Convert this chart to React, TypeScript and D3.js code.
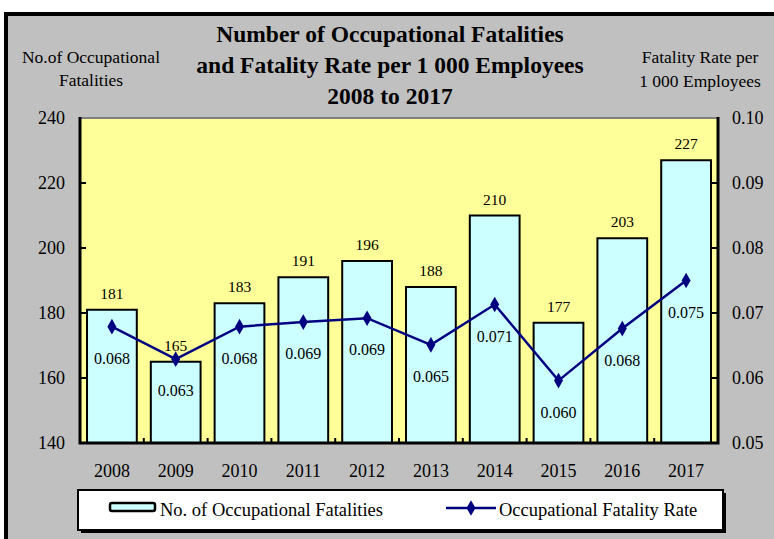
import React, { useEffect, useRef } from "react";
import * as d3 from "d3";

// values
const years = ["2008", "2009", "2010", "2011", "2012", "2013", "2014", "2015", "2016", "2017"];
const fatalities = [181, 165, 183, 191, 196, 188, 210, 177, 203, 227];
const fatalityRate = [0.0679, 0.0629, 0.0679, 0.0686, 0.0692, 0.0651, 0.0713, 0.0596, 0.0676, 0.075];
const leftTicks = [140, 160, 180, 200, 220, 240];
const rightTicks = [0.05, 0.06, 0.07, 0.08, 0.09, 0.1];
const titleLines = [
  "Number of Occupational Fatalities",
  "and Fatality Rate per 1 000 Employees",
  "2008 to 2017",
];

const FONT = "Liberation Serif, serif";

const App = () => {
  const ref = useRef<SVGSVGElement | null>(null);

  useEffect(() => {
    const svgEl = ref.current;
    if (!svgEl) return;
    const svg = d3.select(svgEl);
    svg.selectAll("*").remove();

    const plot = { left: 80, right: 718, top: 118, bottom: 443 };

    // outer frame
    svg.append("rect")
      .attr("x", 6).attr("y", 14)
      .attr("width", 820).attr("height", 600)
      .attr("fill", "#c0c0c0")
      .attr("stroke", "#000")
      .attr("stroke-width", 4);

    // title
    svg.append("g")
      .selectAll("text")
      .data(titleLines)
      .enter()
      .append("text")
      .attr("x", 390)
      .attr("y", (d, i) => 42 + i * 31)
      .attr("text-anchor", "middle")
      .attr("font-family", FONT)
      .attr("font-weight", "bold")
      .attr("font-size", 23.5)
      .text(d => d);

    // axis titles
    const axisTitle = (x, y, s) =>
      svg.append("text")
        .attr("x", x).attr("y", y)
        .attr("text-anchor", "middle")
        .attr("font-family", FONT)
        .attr("font-size", 17.5)
        .text(s);
    axisTitle(91, 63, "No.of Occupational");
    axisTitle(91, 86, "Fatalities");
    axisTitle(700, 63, "Fatality Rate per");
    axisTitle(700, 87, "1 000 Employees");

    const x = d3.scaleBand()
      .domain(years)
      .range([plot.left, plot.right])
      .paddingInner(0.22)
      .paddingOuter(0.11);
    const band = d3.scaleBand().domain(years).range([plot.left, plot.right]);

    const yL = d3.scaleLinear().domain([140, 240]).range([plot.bottom, plot.top]);
    const yR = d3.scaleLinear().domain([0.05, 0.1]).range([plot.bottom, plot.top]);

    // plot background
    svg.append("rect")
      .attr("x", plot.left).attr("y", plot.top)
      .attr("width", plot.right - plot.left)
      .attr("height", plot.bottom - plot.top)
      .attr("fill", "#ffff99");

    // category tick marks
    svg.append("g")
      .selectAll("line")
      .data(years.slice(1))
      .enter()
      .append("line")
      .attr("x1", d => band(d))
      .attr("x2", d => band(d))
      .attr("y1", plot.bottom)
      .attr("y2", plot.bottom - 5)
      .attr("stroke", "#000")
      .attr("stroke-width", 2);

    // value ticks (inward)
    svg.append("g")
      .selectAll("line")
      .data(leftTicks)
      .enter()
      .append("line")
      .attr("x1", plot.left).attr("x2", plot.left + 6)
      .attr("y1", d => yL(d)).attr("y2", d => yL(d))
      .attr("stroke", "#000").attr("stroke-width", 2);
    svg.append("g")
      .selectAll("line")
      .data(rightTicks)
      .enter()
      .append("line")
      .attr("x1", plot.right - 6).attr("x2", plot.right)
      .attr("y1", d => yR(d)).attr("y2", d => yR(d))
      .attr("stroke", "#000").attr("stroke-width", 2);

    // bars
    svg.append("g")
      .selectAll("rect")
      .data(fatalities)
      .enter()
      .append("rect")
      .attr("x", (d, i) => x(years[i]))
      .attr("y", d => yL(d))
      .attr("width", x.bandwidth())
      .attr("height", d => plot.bottom - yL(d))
      .attr("fill", "#ccffff")
      .attr("stroke", "#000")
      .attr("stroke-width", 2);

    // plot border
    svg.append("line")
      .attr("x1", plot.left).attr("x2", plot.right)
      .attr("y1", plot.top).attr("y2", plot.top)
      .attr("stroke", "#808080").attr("stroke-width", 2);
    svg.append("path")
      .attr("d", `M${plot.left},${plot.top - 1}V${plot.bottom}H${plot.right}V${plot.top - 1}`)
      .attr("fill", "none")
      .attr("stroke", "#000")
      .attr("stroke-width", 3);

    // bar labels
    svg.append("g")
      .selectAll("text")
      .data(fatalities)
      .enter()
      .append("text")
      .attr("x", (d, i) => x(years[i]) + x.bandwidth() / 2)
      .attr("y", d => yL(d) - 11)
      .attr("text-anchor", "middle")
      .attr("font-family", FONT)
      .attr("font-size", 15.5)
      .text(d => d);

    // rate line
    const line = d3.line<number>()
      .x((d, i) => x(years[i]) + x.bandwidth() / 2)
      .y(d => yR(d));
    svg.append("path")
      .datum(fatalityRate)
      .attr("d", line)
      .attr("fill", "none")
      .attr("stroke", "#000080")
      .attr("stroke-width", 2.5);

    const diamond = d3.symbol().type(d3.symbolDiamond).size(70);
    svg.append("g")
      .selectAll("path")
      .data(fatalityRate)
      .enter()
      .append("path")
      .attr("d", diamond)
      .attr("transform", (d, i) => `translate(${x(years[i]) + x.bandwidth() / 2},${yR(d)})`)
      .attr("fill", "#000080");

    // rate labels
    svg.append("g")
      .selectAll("text")
      .data(fatalityRate)
      .enter()
      .append("text")
      .attr("x", (d, i) => x(years[i]) + x.bandwidth() / 2)
      .attr("y", d => yR(d) + 37)
      .attr("text-anchor", "middle")
      .attr("font-family", FONT)
      .attr("font-size", 16)
      .text(d => d.toFixed(3));

    // tick labels
    svg.append("g")
      .selectAll("text")
      .data(leftTicks)
      .enter()
      .append("text")
      .attr("x", 65)
      .attr("y", d => yL(d) + 6)
      .attr("text-anchor", "end")
      .attr("font-family", FONT)
      .attr("font-size", 18)
      .text(d => d);
    svg.append("g")
      .selectAll("text")
      .data(rightTicks)
      .enter()
      .append("text")
      .attr("x", 732)
      .attr("y", d => yR(d) + 6)
      .attr("text-anchor", "start")
      .attr("font-family", FONT)
      .attr("font-size", 18)
      .text(d => d.toFixed(2));
    svg.append("g")
      .selectAll("text")
      .data(years)
      .enter()
      .append("text")
      .attr("x", d => band(d) + band.bandwidth() / 2)
      .attr("y", 477)
      .attr("text-anchor", "middle")
      .attr("font-family", FONT)
      .attr("font-size", 18)
      .text(d => d);

    // legend
    const lg = svg.append("g");
    lg.append("rect")
      .attr("x", 81).attr("y", 493)
      .attr("width", 645).attr("height", 40)
      .attr("fill", "#000");
    lg.append("rect")
      .attr("x", 78).attr("y", 490)
      .attr("width", 645).attr("height", 40)
      .attr("fill", "#fff")
      .attr("stroke", "#000")
      .attr("stroke-width", 2);
    lg.append("rect")
      .attr("x", 110).attr("y", 503)
      .attr("width", 45).attr("height", 8)
      .attr("rx", 2)
      .attr("fill", "#ccffff")
      .attr("stroke", "#000")
      .attr("stroke-width", 2.5);
    lg.append("text")
      .attr("x", 160).attr("y", 516)
      .attr("font-family", FONT)
      .attr("font-size", 18.5)
      .text("No. of  Occupational Fatalities");
    lg.append("line")
      .attr("x1", 446).attr("x2", 496)
      .attr("y1", 508).attr("y2", 508)
      .attr("stroke", "#000080")
      .attr("stroke-width", 2.5);
    lg.append("path")
      .attr("d", diamond)
      .attr("transform", "translate(471,508)")
      .attr("fill", "#000080");
    lg.append("text")
      .attr("x", 499).attr("y", 516)
      .attr("font-family", FONT)
      .attr("font-size", 18.5)
      .text("Occupational Fatality Rate");
  }, []);

  return (
    <svg
      ref={ref}
      width={774}
      height={539}
      style={{ position: "absolute", left: 0, top: 0, background: "#fff" }}
    />
  );
};

export default App;
